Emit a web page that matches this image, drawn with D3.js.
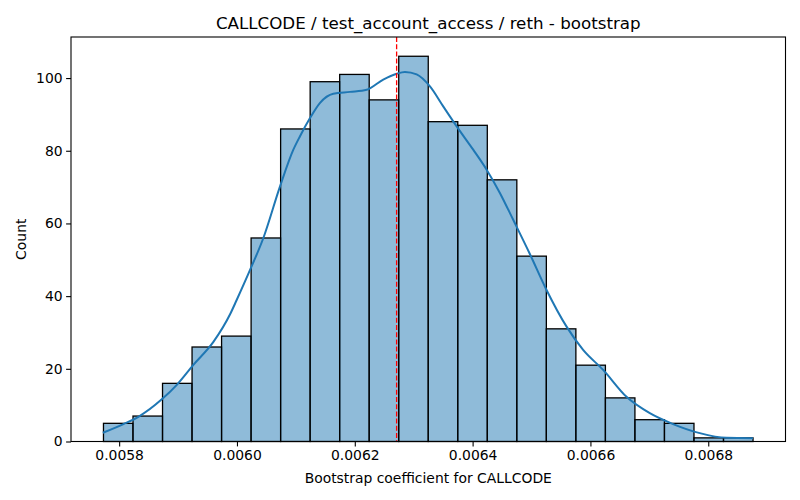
<!DOCTYPE html>
<html>
<head>
<meta charset="utf-8">
<script src="https://cdn.jsdelivr.net/npm/d3@7"></script>
<style>
  body { margin: 0; background: #fff; }
  text { font-family: "DejaVu Sans", sans-serif; }
</style>
</head>
<body>
<div id="chart"></div>
<script>
// histogram bins (coefficient range split into equal bins)
const binStart = 0.0057734
const binEnd = 0.0068760
const counts = [5, 7, 16, 26, 29, 56, 86, 99, 101, 94, 106, 88, 87, 72, 51, 31, 21, 12, 6, 5, 1, 1]

// kde curve
const kdeX = [0.0057723, 0.0058073, 0.0058327, 0.0058724, 0.0058979, 0.0059260, 0.0059600, 0.0059883,
  0.0059997, 0.0060222, 0.0060448, 0.0060731, 0.0060957, 0.0061070, 0.0061240, 0.0061410, 0.0061635, 0.0061919,
  0.0062202, 0.0062483, 0.0062711, 0.0062852, 0.0063050, 0.0063276, 0.0063501, 0.0063729, 0.0064010,
  0.0064238, 0.0064463, 0.0064689, 0.0064972, 0.0065255, 0.0065595, 0.0065876, 0.0066216, 0.0066612,
  0.0067008, 0.0067403, 0.0067856, 0.0068309, 0.0068760]
const kdeY = [2.4, 4.8, 6.8, 11.6, 15.6, 21.1, 27.4, 35.0,
  39.0, 47.2, 56, 70.2, 80.3, 84, 89, 93.2, 95.7, 96.2,
  96.8, 99.6, 101.2, 101.7, 101, 97.7, 92.2, 86.7, 80.3,
  74.8, 68.4, 61, 51.6, 41.7, 31.6, 25.2, 19.7, 12.3,
  7.8, 4.8, 2.3, 1.0, 0.9]

const meanValue = 0.006271
const xTicks = [0.0058, 0.0060, 0.0062, 0.0064, 0.0066, 0.0068]
const yTicks = [0, 20, 40, 60, 80, 100]

const width = 800
const height = 500
const margin = ({ top: 37, right: 14.5, bottom: 58.5, left: 71 })

const binWidth = (binEnd - binStart) / counts.length
const bins = counts.map((c, i) => ({ x0: binStart + i * binWidth, x1: binStart + (i + 1) * binWidth, count: c }))

const pad = (binEnd - binStart) * 0.05
var x = d3.scaleLinear()
  .domain([binStart - pad, binEnd + pad])
  .range([margin.left, width - margin.right])

var y = d3.scaleLinear()
  .domain([0, d3.max(counts) * 1.05])
  .range([height - margin.bottom, margin.top])

var svg = d3.select('#chart')
  .append('svg')
  .attr('width', width)
  .attr('height', height)

// bars
svg.append('g')
  .selectAll('rect')
  .data(bins)
  .join('rect')
  .attr('x', d => x(d.x0))
  .attr('y', d => y(d.count))
  .attr('width', d => x(d.x1) - x(d.x0))
  .attr('height', d => y(0) - y(d.count))
  .attr('fill', '#1f77b4')
  .attr('fill-opacity', 0.5)
  .attr('stroke', '#000')
  .attr('stroke-width', 1.3)

// kde line
svg.append('path')
  .datum(kdeX.map((v, i) => [v, kdeY[i]]))
  .attr('fill', 'none')
  .attr('stroke', '#1f77b4')
  .attr('stroke-width', 2)
  .attr('d', d3.line().curve(d3.curveMonotoneX).x(d => x(d[0])).y(d => y(d[1])))

// mean line
svg.append('line')
  .attr('x1', x(meanValue))
  .attr('x2', x(meanValue))
  .attr('y1', margin.top)
  .attr('y2', height - margin.bottom)
  .attr('stroke', 'red')
  .attr('stroke-width', 1.3)
  .attr('stroke-dasharray', '5,2.2')

xAxis = g => g
  .attr('transform', `translate(0,${height - margin.bottom})`)
  .call(d3.axisBottom(x).tickValues(xTicks).tickFormat(d3.format('.4f')).tickSizeOuter(0).tickSize(4.9).tickPadding(3.5))
  .call(g => g.select('.domain').remove())
  .call(g => g.selectAll('text').attr('font-size', 13.9).attr('fill', '#000').attr('font-family', 'DejaVu Sans'))
  .call(g => g.selectAll('line').attr('stroke', '#000').attr('stroke-width', 1.1))

yAxis = g => g
  .attr('transform', `translate(${margin.left},0)`)
  .call(d3.axisLeft(y).tickValues(yTicks).tickSizeOuter(0).tickSize(4.9).tickPadding(3.5))
  .call(g => g.select('.domain').remove())
  .call(g => g.selectAll('text').attr('font-size', 13.9).attr('fill', '#000').attr('font-family', 'DejaVu Sans'))
  .call(g => g.selectAll('line').attr('stroke', '#000').attr('stroke-width', 1.1))

svg.append('g').call(xAxis)
svg.append('g').call(yAxis)

// frame
svg.append('rect')
  .attr('x', margin.left)
  .attr('y', margin.top)
  .attr('width', width - margin.left - margin.right)
  .attr('height', height - margin.top - margin.bottom)
  .attr('fill', 'none')
  .attr('stroke', '#000')
  .attr('stroke-width', 1.1)

// labels
svg.append('text')
  .attr('x', (margin.left + width - margin.right) / 2)
  .attr('y', 29)
  .attr('text-anchor', 'middle')
  .attr('font-size', 16.7)
  .text('CALLCODE / test_account_access / reth - bootstrap')

svg.append('text')
  .attr('x', (margin.left + width - margin.right) / 2)
  .attr('y', 483)
  .attr('text-anchor', 'middle')
  .attr('font-size', 13.9)
  .text('Bootstrap coefficient for CALLCODE')

svg.append('text')
  .attr('transform', `translate(26,${(margin.top + height - margin.bottom) / 2}) rotate(-90)`)
  .attr('text-anchor', 'middle')
  .attr('font-size', 13.9)
  .text('Count')
</script>
</body>
</html>
